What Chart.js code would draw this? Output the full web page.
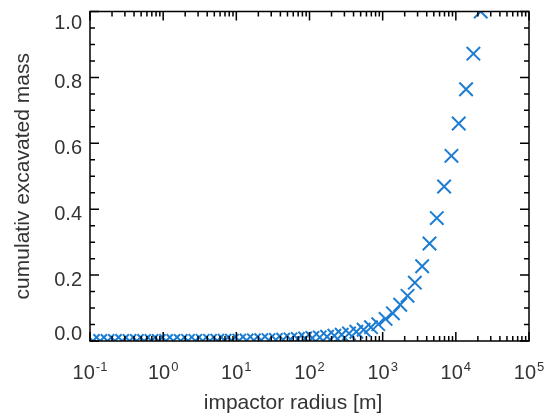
<!DOCTYPE html>
<html>
<head>
<meta charset="utf-8">
<script src="https://cdn.jsdelivr.net/npm/chart.js@4/dist/chart.umd.min.js"></script>
<style>
    html, body { margin: 0; padding: 0; background: #fff; }
    #wrap { width: 550px; height: 417px; }
</style>
</head>
<body>
<div id="wrap"><canvas id="massChart" width="550" height="417"></canvas></div>
<script>
// impactor radius [m] (points are evenly spaced in log, ~0.1 dex)
const radius = [
    0.1096, 0.138, 0.1738, 0.2188, 0.2754, 0.3467, 0.4365, 0.5495, 0.6918, 0.871,
    1.096, 1.38, 1.738, 2.188, 2.754, 3.467, 4.365, 5.495, 6.918, 8.71,
    10.96, 13.8, 17.38, 21.88, 27.54, 34.67, 43.65, 54.95, 69.18, 87.1,
    109.6, 138.0, 173.8, 218.8, 275.4, 346.7, 436.5, 549.5, 691.8, 871.0,
    1096, 1380, 1738, 2188, 2754, 3467, 4365, 5495, 6918, 8710,
    10960, 13800, 17380, 21880
];
// cumulativ excavated mass
const cumMass = [
    0, 0, 0, 0, 0, 0, 0.0001, 0.0001, 0.0001, 0.0002,
    0.0002, 0.0003, 0.0003, 0.0004, 0.0004, 0.0005, 0.0006, 0.0007, 0.0009, 0.0011,
    0.0013, 0.0016, 0.0019, 0.0023, 0.0028, 0.0034, 0.004, 0.005, 0.006, 0.0075,
    0.009, 0.011, 0.013, 0.016, 0.019, 0.023, 0.028, 0.034, 0.042, 0.051,
    0.067, 0.084, 0.11, 0.137, 0.177, 0.227, 0.296, 0.373, 0.469, 0.562,
    0.66, 0.764, 0.872, 1.0
];
const xTickValues = [0.1, 1, 10, 100, 1000, 10000, 100000];
const xTickExps = ['-1', '0', '1', '2', '3', '4', '5'];
const yTickLabels = ['0.0', '0.2', '0.4', '0.6', '0.8', '1.0'];

const xTitle = 'impactor radius [m]';
const yTitle = 'cumulativ excavated mass';

const FONT = "'Liberation Sans', Arial, Helvetica, sans-serif";
const TEXT_COLOR = '#333333';

// IDL-like frame: box, inward ticks on all four sides, labels and titles
const idlAxes = {
    id: 'idlAxes',
    afterDraw(chart) {
        const ctx = chart.ctx;
        const area = chart.chartArea;
        const xs = chart.scales.x;
        const ys = chart.scales.y;
        const majorLen = 9, minorLen = 5;

        ctx.save();
        ctx.strokeStyle = '#000';
        ctx.lineWidth = 1.5;
        ctx.strokeRect(area.left, area.top, area.right - area.left, area.bottom - area.top);

        ctx.beginPath();
        // x ticks (log): decades major, 2..9 minor
        xs.ticks.forEach(t => {
            const px = xs.getPixelForValue(t.value);
            ctx.moveTo(px, area.bottom); ctx.lineTo(px, area.bottom - majorLen);
            ctx.moveTo(px, area.top); ctx.lineTo(px, area.top + majorLen);
            if (t.value >= xs.max) return;
            for (let m = 2; m <= 9; m++) {
                const mx = xs.getPixelForValue(t.value * m);
                ctx.moveTo(mx, area.bottom); ctx.lineTo(mx, area.bottom - minorLen);
                ctx.moveTo(mx, area.top); ctx.lineTo(mx, area.top + minorLen);
            }
        });
        // y ticks: major every 0.2, minor every 0.05
        for (let i = 0; i <= 20; i++) {
            const v = ys.min + i * 0.05;
            const py = ys.getPixelForValue(v);
            const len = (i % 4 === 0) ? majorLen : minorLen;
            ctx.moveTo(area.left, py); ctx.lineTo(area.left + len, py);
            ctx.moveTo(area.right, py); ctx.lineTo(area.right - len, py);
        }
        ctx.stroke();

        ctx.fillStyle = TEXT_COLOR;

        // x tick labels 10^n
        xs.ticks.forEach((t, i) => {
            const px = xs.getPixelForValue(t.value);
            ctx.font = '20px ' + FONT;
            const wBase = ctx.measureText('10').width;
            ctx.font = '13px ' + FONT;
            const wExp = ctx.measureText(xTickExps[i]).width;
            const x0 = px - (wBase + wExp + 1) / 2;
            ctx.textAlign = 'left';
            ctx.textBaseline = 'alphabetic';
            ctx.font = '20px ' + FONT;
            ctx.fillText('10', x0, 379);
            ctx.font = '13px ' + FONT;
            ctx.fillText(xTickExps[i], x0 + wBase + 1, 371);
        });

        // y tick labels
        ctx.font = '20px ' + FONT;
        ctx.textAlign = 'right';
        ctx.textBaseline = 'middle';
        ys.ticks.forEach((t, i) => {
            let py = ys.getPixelForValue(t.value) + 5;
            py = Math.min(Math.max(py, area.top + 12), area.bottom - 7);
            ctx.fillText(yTickLabels[i], area.left - 8, py);
        });

        // axis titles
        ctx.font = '21px ' + FONT;
        ctx.textAlign = 'center';
        ctx.textBaseline = 'alphabetic';
        ctx.fillText(xTitle, 293, 409);

        ctx.translate(28.5, (area.top + area.bottom) / 2);
        ctx.rotate(-Math.PI / 2);
        ctx.fillText(yTitle, 0, 0);
        ctx.restore();
    }
};

const ctxMass = document.getElementById('massChart').getContext('2d');
new Chart(ctxMass, {
    type: 'scatter',
    data: {
        datasets: [{
            label: yTitle,
            data: radius.map((r, i) => ({ x: r, y: cumMass[i] })),
            pointStyle: 'crossRot',
            pointRadius: 9.5,
            pointHoverRadius: 9.5,
            borderColor: '#1c7dd2',
            backgroundColor: '#1c7dd2',
            pointBorderWidth: 2,
            showLine: false,
            clip: 0
        }]
    },
    options: {
        responsive: false,
        animation: false,
        events: [],
        layout: {
            padding: { left: 0, right: 21, top: 7, bottom: 0 }
        },
        plugins: {
            legend: { display: false },
            tooltip: { enabled: false }
        },
        scales: {
            x: {
                type: 'logarithmic',
                min: 0.1,
                max: 100000,
                grid: { display: false },
                border: { display: false },
                ticks: { display: false },
                afterBuildTicks: scale => {
                    scale.ticks = xTickValues.map(v => ({ value: v }));
                },
                afterFit: scale => { scale.height = 76; }
            },
            y: {
                min: 0,
                max: 1,
                grid: { display: false },
                border: { display: false },
                ticks: { display: false, stepSize: 0.2 },
                afterFit: scale => { scale.width = 90; }
            }
        }
    },
    plugins: [idlAxes]
});
</script>
</body>
</html>
